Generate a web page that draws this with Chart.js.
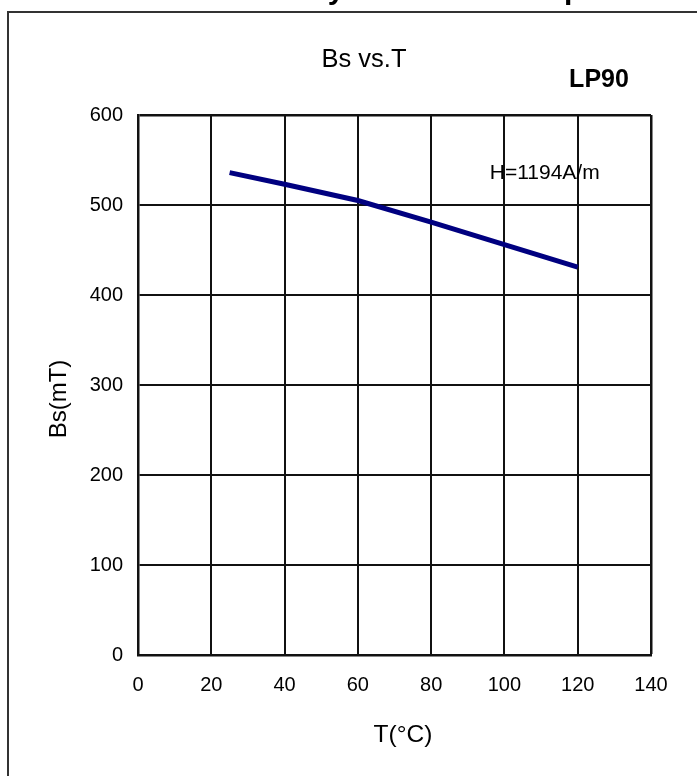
<!DOCTYPE html>
<html>
<head>
<meta charset="utf-8">
<title>Bs vs.T</title>
<script src="https://cdn.jsdelivr.net/npm/chart.js@4.4.1/dist/chart.umd.min.js"></script>
<style>
  html, body { margin: 0; padding: 0; background: #fff; }
  #wrap { width: 697px; height: 776px; }
</style>
</head>
<body>
<div id="wrap"><canvas id="bs-chart" width="697" height="776"></canvas></div>
<script>
// Bs (mT) measured against temperature (°C)
const temps = [25, 40, 60, 80, 100, 120];
const bsValues = [536, 523, 505, 481, 456, 431];
const xTicks = [0, 20, 40, 60, 80, 100, 120, 140];
const yTicks = [0, 100, 200, 300, 400, 500, 600];

const pageHeading = "Flux Density at Various Temperatures";
const chartTitle = "Bs vs.T";
const gradeLabel = "LP90";
const fieldLabel = "H=1194A/m";
const xTitle = "T(°C)";
const yTitle = "Bs(mT)";

const FONT = "'Liberation Sans', Arial, sans-serif";

// frame, headings, axis titles and the field note
const decor = {
  id: "decor",
  afterDraw(chart) {
    const { ctx } = chart;
    const x = chart.scales.x;
    const y = chart.scales.y;
    ctx.save();

    ctx.strokeStyle = "#333";
    ctx.lineWidth = 2;
    ctx.beginPath();
    ctx.moveTo(8, 776);
    ctx.lineTo(8, 12);
    ctx.lineTo(697, 12);
    ctx.stroke();

    ctx.fillStyle = "#000";
    ctx.textBaseline = "alphabetic";

    // heading above the frame, only its lower edge is on the page
    ctx.font = "bold 30px " + FONT;
    ctx.textAlign = "left";
    ctx.fillText(pageHeading, 166, -1);

    ctx.font = "25.5px " + FONT;
    ctx.textAlign = "center";
    ctx.fillText(chartTitle, 364, 67);

    ctx.font = "bold 25px " + FONT;
    ctx.fillText(gradeLabel, 599, 87);

    ctx.font = "21px " + FONT;
    ctx.textAlign = "left";
    ctx.fillText(fieldLabel, x.getPixelForValue(96), y.getPixelForValue(529));

    ctx.font = "24.5px " + FONT;
    ctx.textAlign = "center";
    ctx.fillText(xTitle, 403, 742);

    ctx.font = "24px " + FONT;
    ctx.translate(59, 399);
    ctx.rotate(-Math.PI / 2);
    ctx.textBaseline = "middle";
    ctx.fillText(yTitle, 0, 0);

    ctx.restore();
  }
};

const ctx = document.getElementById("bs-chart").getContext("2d");
new Chart(ctx, {
  type: "line",
  data: {
    datasets: [{
      label: yTitle,
      data: temps.map((t, i) => ({ x: t, y: bsValues[i] })),
      borderColor: "#000080",
      borderWidth: 5,
      pointRadius: 0,
      tension: 0,
      fill: false
    }]
  },
  options: {
    responsive: false,
    animation: false,
    layout: { padding: { top: 115, right: 46, left: 0, bottom: 0 } },
    plugins: {
      legend: { display: false },
      tooltip: { enabled: false }
    },
    scales: {
      x: {
        type: "linear",
        min: 0,
        max: 140,
        afterBuildTicks: (s) => { s.ticks = xTicks.map((v) => ({ value: v })); },
        afterFit: (s) => { s.height = 121; },
        grid: {
          color: "#111",
          lineWidth: (c) => (c.tick && c.tick.value === 140 ? 2.5 : 2),
          drawTicks: false
        },
        border: { color: "#111", width: 2.5 },
        ticks: {
          color: "#000",
          padding: 18,
          maxRotation: 0,
          font: { family: FONT, size: 20 }
        }
      },
      y: {
        type: "linear",
        min: 0,
        max: 600,
        afterBuildTicks: (s) => { s.ticks = yTicks.map((v) => ({ value: v })); },
        afterFit: (s) => { s.width = 138; },
        grid: {
          color: "#111",
          lineWidth: (c) => (c.tick && c.tick.value === 600 ? 2.5 : 2),
          drawTicks: false
        },
        border: { color: "#111", width: 2.5 },
        ticks: {
          color: "#000",
          padding: 15,
          font: { family: FONT, size: 20 }
        }
      }
    }
  },
  plugins: [decor]
});
</script>
</body>
</html>
